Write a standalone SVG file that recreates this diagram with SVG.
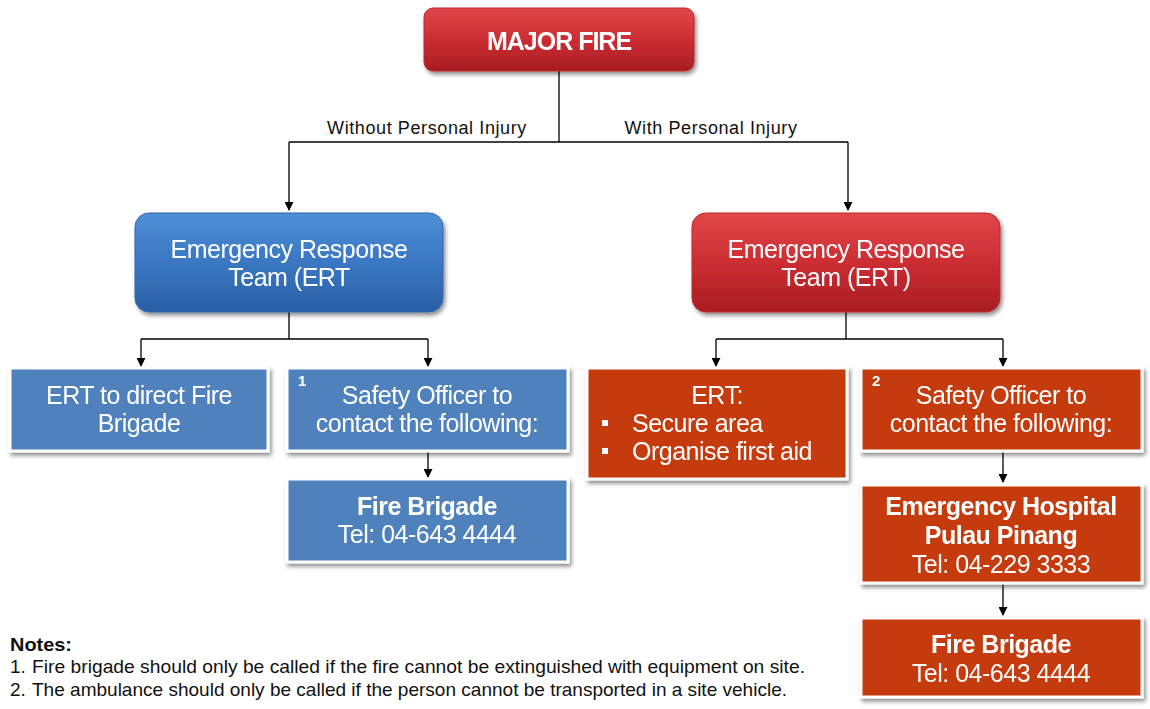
<svg xmlns="http://www.w3.org/2000/svg" width="1150" height="709" viewBox="0 0 1150 709">
  <defs>
    <linearGradient id="gradRed" x1="0" y1="0" x2="0" y2="1">
      <stop offset="0" stop-color="#e0474a"/>
      <stop offset="0.5" stop-color="#cc2d33"/>
      <stop offset="1" stop-color="#a81d22"/>
    </linearGradient>
    <linearGradient id="gradBlue" x1="0" y1="0" x2="0" y2="1">
      <stop offset="0" stop-color="#4e8fd6"/>
      <stop offset="0.5" stop-color="#3a77c2"/>
      <stop offset="1" stop-color="#2a5fa6"/>
    </linearGradient>
    <filter id="shadow" x="-10%" y="-10%" width="125%" height="130%">
      <feGaussianBlur in="SourceAlpha" stdDeviation="2"/>
      <feOffset dx="2" dy="3" result="b"/>
      <feComponentTransfer><feFuncA type="linear" slope="0.45"/></feComponentTransfer>
      <feMerge><feMergeNode/><feMergeNode in="SourceGraphic"/></feMerge>
    </filter>
    <marker id="arrow" viewBox="0 0 10 10" refX="9" refY="5" markerWidth="9" markerHeight="9" markerUnits="userSpaceOnUse" orient="auto">
      <path d="M0,0 L10,5 L0,10 z" fill="#000"/>
    </marker>
  </defs>
  <style>
    text { font-family: "Liberation Sans", Arial, sans-serif; }
    .box-text { fill: #ffffff; font-size: 25px; text-anchor: middle; letter-spacing: -0.5px; }
    .bold { font-weight: bold; }
    .flat-blue { fill: #4f81bd; stroke: #ffffff; stroke-width: 3; }
    .flat-red { fill: #c53a0c; stroke: #ffffff; stroke-width: 3; }
    .conn { fill: none; stroke: #000; stroke-width: 1.3; }
    .label { font-size: 18px; fill: #111; text-anchor: middle; letter-spacing: 0.6px; }
    .note { font-size: 19px; fill: #111; }
    .num { font-size: 15px; font-weight: bold; fill: #fff; }
  </style>

  <rect width="1150" height="709" fill="#ffffff"/>

  <!-- connectors -->
  <g id="connectors">
    <path class="conn" d="M559,71 V142"/>
    <path class="conn" d="M289,142 H848"/>
    <path class="conn" d="M289,142 V210" marker-end="url(#arrow)"/>
    <path class="conn" d="M848,142 V210" marker-end="url(#arrow)"/>
    <path class="conn" d="M289,312 V339"/>
    <path class="conn" d="M141,339 H428"/>
    <path class="conn" d="M141,339 V366" marker-end="url(#arrow)"/>
    <path class="conn" d="M428,339 V366" marker-end="url(#arrow)"/>
    <path class="conn" d="M846,312 V339"/>
    <path class="conn" d="M716,339 H1003"/>
    <path class="conn" d="M716,339 V366" marker-end="url(#arrow)"/>
    <path class="conn" d="M1003,339 V366" marker-end="url(#arrow)"/>
    <path class="conn" d="M428,451 V477" marker-end="url(#arrow)"/>
    <path class="conn" d="M1003,451 V482" marker-end="url(#arrow)"/>
    <path class="conn" d="M1003,583 V615" marker-end="url(#arrow)"/>
    <text class="label" x="427" y="134">Without Personal Injury</text>
    <text class="label" x="711" y="134">With Personal Injury</text>
  </g>

  <!-- top node -->
  <g id="major-fire" filter="url(#shadow)">
    <rect x="424" y="8" width="270" height="63" rx="9" fill="url(#gradRed)" stroke="#b82a2e" stroke-width="1"/>
    <text class="box-text bold" x="559" y="50" style="letter-spacing:-1px">MAJOR FIRE</text>
  </g>

  <!-- left ERT -->
  <g id="ert-left" filter="url(#shadow)">
    <rect x="135" y="213" width="308" height="99" rx="14" fill="url(#gradBlue)" stroke="#2f68b0" stroke-width="1"/>
    <text class="box-text" x="289" y="258">Emergency Response</text>
    <text class="box-text" x="289" y="286">Team (ERT</text>
  </g>

  <!-- right ERT -->
  <g id="ert-right" filter="url(#shadow)">
    <rect x="692" y="213" width="308" height="99" rx="14" fill="url(#gradRed)" stroke="#b82a2e" stroke-width="1"/>
    <text class="box-text" x="846" y="258">Emergency Response</text>
    <text class="box-text" x="846" y="286">Team (ERT)</text>
  </g>

  <!-- ERT direct fire brigade -->
  <g id="ert-direct" filter="url(#shadow)">
    <rect class="flat-blue" x="10" y="368" width="258" height="83"/>
    <text class="box-text" x="139" y="404">ERT to direct Fire</text>
    <text class="box-text" x="139" y="432">Brigade</text>
  </g>

  <!-- Safety officer 1 -->
  <g id="safety-officer-1" filter="url(#shadow)">
    <rect class="flat-blue" x="287" y="368" width="281" height="83"/>
    <text class="num" x="298" y="386">1</text>
    <text class="box-text" x="427" y="404">Safety Officer to</text>
    <text class="box-text" x="427" y="432">contact the following:</text>
  </g>

  <!-- Fire brigade left -->
  <g id="fire-brigade-left" filter="url(#shadow)">
    <rect class="flat-blue" x="287" y="479" width="281" height="83"/>
    <text class="box-text bold" x="427" y="515">Fire Brigade</text>
    <text class="box-text" x="427" y="543">Tel: 04-643 4444</text>
  </g>

  <!-- ERT actions -->
  <g id="ert-actions" filter="url(#shadow)">
    <rect class="flat-red" x="587" y="368" width="260" height="111"/>
    <text class="box-text" x="717" y="404">ERT:</text>
    <rect x="602" y="420" width="6" height="6" fill="#fff"/>
    <text class="box-text" x="632" y="432" style="text-anchor:start">Secure area</text>
    <rect x="602" y="448" width="6" height="6" fill="#fff"/>
    <text class="box-text" x="632" y="460" style="text-anchor:start">Organise first aid</text>
  </g>

  <!-- Safety officer 2 -->
  <g id="safety-officer-2" filter="url(#shadow)">
    <rect class="flat-red" x="861" y="368" width="281" height="83"/>
    <text class="num" x="872" y="386">2</text>
    <text class="box-text" x="1001" y="404">Safety Officer to</text>
    <text class="box-text" x="1001" y="432">contact the following:</text>
  </g>

  <!-- Emergency hospital -->
  <g id="emergency-hospital" filter="url(#shadow)">
    <rect class="flat-red" x="861" y="485" width="281" height="98"/>
    <text class="box-text bold" x="1001" y="515">Emergency Hospital</text>
    <text class="box-text bold" x="1001" y="544">Pulau Pinang</text>
    <text class="box-text" x="1001" y="573">Tel: 04-229 3333</text>
  </g>

  <!-- Fire brigade right -->
  <g id="fire-brigade-right" filter="url(#shadow)">
    <rect class="flat-red" x="861" y="618" width="281" height="79"/>
    <text class="box-text bold" x="1001" y="653">Fire Brigade</text>
    <text class="box-text" x="1001" y="682">Tel: 04-643 4444</text>
  </g>

  <!-- notes -->
  <g id="notes">
    <text class="note bold" x="10" y="651" textLength="62" lengthAdjust="spacingAndGlyphs">Notes:</text>
    <text class="note" x="10" y="673">1.</text>
    <text class="note" x="32" y="673" textLength="773" lengthAdjust="spacingAndGlyphs">Fire brigade should only be called if the fire cannot be extinguished with equipment on site.</text>
    <text class="note" x="10" y="696">2.</text>
    <text class="note" x="32" y="696" textLength="755" lengthAdjust="spacingAndGlyphs">The ambulance should only be called if the person cannot be transported in a site vehicle.</text>
  </g>
</svg>
